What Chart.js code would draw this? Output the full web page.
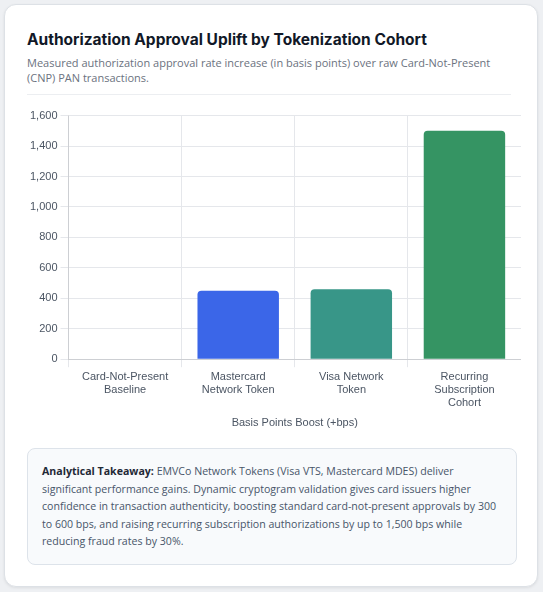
<!DOCTYPE html>
<html><head><meta charset="utf-8">
<script src="https://cdn.jsdelivr.net/npm/chart.js@4.4.0/dist/chart.umd.min.js"></script>
<style>
body{margin:0;background:#eef0f3;font-family:"Open Sans","Noto Sans",sans-serif;}
.card{position:absolute;left:4px;top:4px;width:534px;height:583px;background:#fff;border:1px solid #dde1e6;border-radius:12px;box-sizing:border-box;box-shadow:0 1px 3px rgba(0,0,0,.08);}
h1{position:absolute;left:22px;top:25px;margin:0;font-size:15.5px;font-weight:700;color:#111827;font-family:Inter,"Noto Sans",sans-serif;}
.sub{position:absolute;left:22px;top:50px;width:490px;font-size:11px;line-height:15px;color:#6b7280;}
.hr{position:absolute;left:22px;right:26px;top:89px;border-top:1px solid #eceef1;}
.chartbox{position:absolute;left:22px;top:101px;width:494px;height:328px;}
.note{position:absolute;left:22px;top:443px;width:490px;height:117px;background:#f8fafc;border:1px solid #dde3ea;border-radius:8px;box-sizing:border-box;padding:14px 14px;font-size:10.6px;line-height:17.5px;color:#475569;}
.note b{color:#1f2937;}
</style></head><body>
<div class="card">
<h1>Authorization Approval Uplift by Tokenization Cohort</h1>
<div class="sub">Measured authorization approval rate increase (in basis points) over raw Card-Not-Present (CNP) PAN transactions.</div>
<div class="hr"></div>
<div class="chartbox"><canvas id="c"></canvas></div>
<div class="note"><b>Analytical Takeaway:</b> EMVCo Network Tokens (Visa VTS, Mastercard MDES) deliver significant performance gains. Dynamic cryptogram validation gives card issuers higher confidence in transaction authenticity, boosting standard card-not-present approvals by 300 to 600 bps, and raising recurring subscription authorizations by up to 1,500 bps while reducing fraud rates by 30%.</div>
</div>
<script>
// Dados do gráfico
const categories = [['Card-Not-Present','Baseline'],['Mastercard','Network Token'],['Visa Network','Token'],['Recurring','Subscription','Cohort']];
const upliftBps = [0, 450, 460, 1500];
const barColors = ['#9ca3af', '#3b66e8', '#389688', '#359463'];

new Chart(document.getElementById('c'), {
    type: 'bar',
    data: {
        labels: categories,
        datasets: [{
            data: upliftBps,
            backgroundColor: barColors,
            borderRadius: 4,
            categoryPercentage: 0.9,
            barPercentage: 0.8
        }]
    },
    options: {
        responsive: true,
        maintainAspectRatio: false,
        animation: false,
        plugins: { legend: { display: false }, tooltip: { enabled: false } },
        scales: {
            x: {
                grid: { color: '#e5e7eb' },
                ticks: { color: '#4b5563', font: { size: 11 } },
                title: { display: true, text: 'Basis Points Boost (+bps)', color: '#4b5563', font: { size: 11 } }
            },
            y: {
                min: 0, max: 1600,
                ticks: { stepSize: 200, color: '#4b5563', font: { size: 11 } },
                grid: { color: '#e5e7eb' }
            }
        }
    }
});
</script>
</body></html>
